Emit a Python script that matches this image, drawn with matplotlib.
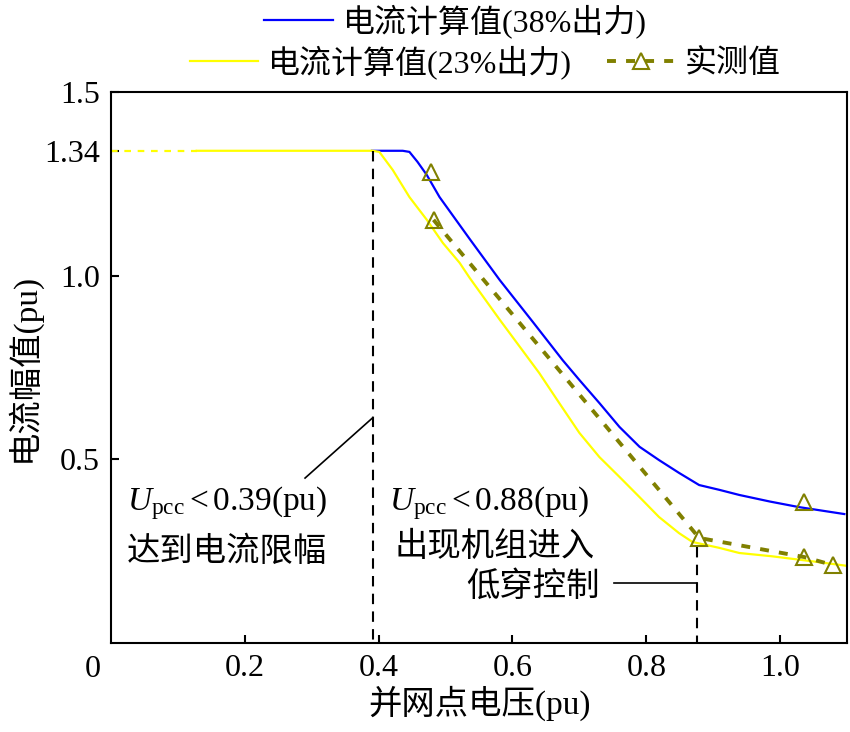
import matplotlib
matplotlib.use('Agg')
import matplotlib.pyplot as plt

plt.rcParams['font.family'] = ['Liberation Serif', 'Noto Sans CJK SC']
plt.rcParams['mathtext.fontset'] = 'custom'
plt.rcParams['mathtext.rm'] = 'Liberation Serif'
plt.rcParams['mathtext.it'] = 'Liberation Serif:italic'

# calculated current, 38% output
v_38 = [0.39, 0.436, 0.446, 0.458, 0.472, 0.491, 0.536, 0.581, 0.630, 0.675, 0.700, 0.730,
        0.760, 0.790, 0.819, 0.849, 0.879, 0.909, 0.939, 0.985, 1.028, 1.096]
i_38 = [1.34, 1.34, 1.337, 1.310, 1.274, 1.214, 1.100, 0.988, 0.875, 0.770, 0.716, 0.653,
        0.588, 0.534, 0.498, 0.463, 0.430, 0.417, 0.403, 0.385, 0.370, 0.351]

# calculated current, 23% output (dashed part at the start)
v_23_start = [0.0, 0.128]
i_23_start = [1.34, 1.34]
v_23 = [0.128, 0.391, 0.401, 0.421, 0.446, 0.472, 0.496, 0.521, 0.536, 0.581, 0.640, 0.670,
        0.700, 0.730, 0.760, 0.790, 0.819, 0.849, 0.869, 0.909, 0.939, 0.988, 1.054, 1.100]
i_23 = [1.34, 1.34, 1.337, 1.288, 1.214, 1.152, 1.089, 1.035, 0.994, 0.880, 0.735, 0.653,
        0.572, 0.506, 0.452, 0.397, 0.343, 0.299, 0.275, 0.259, 0.245, 0.236, 0.221, 0.210]

# measured values
v_meas = [0.482, 0.879, 1.036, 1.079]
i_meas = [1.152, 0.286, 0.234, 0.212]
v_meas_38 = [0.478, 1.036]
i_meas_38 = [1.282, 0.384]

x_ticks = [0.2, 0.4, 0.6, 0.8, 1.0]
x_labels = ['0.2', '0.4', '0.6', '0.8', '1.0']
y_ticks = [0.5, 1.0, 1.34, 1.5]
y_labels = ['0.5', '1.0', '1.34', '1.5']

olive = '#808000'

fig = plt.figure(figsize=(8.5, 7.32), dpi=100)
ax = fig.add_axes([0.1306, 0.1216, 0.8659, 0.7527])

l38, = ax.plot(v_38, i_38, color='#0000ff', lw=1.6, label='电流计算值(38%出力)')
ax.plot(v_23_start, i_23_start, color='#ffff00', lw=1.6, linestyle=(0, (3, 3)))
l23, = ax.plot(v_23, i_23, color='#ffff00', lw=1.6, label='电流计算值(23%出力)')
lm, = ax.plot(v_meas, i_meas, color=olive, lw=2.8, linestyle=(0, (2.3, 2.6)),
              marker='^', markersize=12, markerfacecolor='none', markeredgecolor=olive,
              markeredgewidth=1.5, label='实测值')
ax.plot(v_meas_38, i_meas_38, linestyle='none', marker='^', markersize=12,
        markerfacecolor='none', markeredgecolor=olive, markeredgewidth=1.5)

# vertical markers and leader lines
ax.plot([0.391, 0.391], [1.34, 0], color='black', lw=1.5, linestyle=(0, (5, 3.5)))
ax.plot([0.876, 0.876], [0.26, 0], color='black', lw=1.5, linestyle=(0, (5, 3.5)))
ax.plot([0.391, 0.290], [0.613, 0.449], color='black', lw=1.2)
ax.plot([0.751, 0.876], [0.163, 0.163], color='black', lw=1.2)

ax.text(0.024, 0.381, r'$U_{\mathrm{pcc}} < \mathrm{0.39(pu)}$', fontsize=24, ha='left', va='center')
ax.text(0.024, 0.248, '达到电流限幅', fontsize=24, ha='left', va='center')
ax.text(0.416, 0.381, r'$U_{\mathrm{pcc}} < \mathrm{0.88(pu)}$', fontsize=24, ha='left', va='center')
ax.text(0.424, 0.259, '出现机组进入', fontsize=24, ha='left', va='center')
ax.text(0.730, 0.152, '低穿控制', fontsize=24, ha='right', va='center')

ax.set_xlim(0, 1.1)
ax.set_ylim(0, 1.5)
ax.set_xticks(x_ticks)
ax.set_xticklabels(x_labels)
ax.set_yticks(y_ticks)
ax.set_yticklabels(y_labels)
ax.tick_params(direction='in', length=6, width=1.5, labelsize=23, pad=8)
ax.text(-0.027, -0.071, '0', fontsize=23, ha='center', va='center')
for s in ax.spines.values():
    s.set_linewidth(1.5)

ax.set_xlabel('并网点电压(pu)', fontsize=24, labelpad=2)
ax.set_ylabel('电流幅值(pu)', fontsize=24, labelpad=2)

fig.legend(handles=[l38], loc='center', bbox_to_anchor=(0.536, 0.971), frameon=False,
           fontsize=23, handlelength=2.15, handletextpad=0.3, borderpad=0)
fig.legend(handles=[l23, lm], loc='center', bbox_to_anchor=(0.571, 0.915), frameon=False,
           fontsize=23, ncol=2, handlelength=2.15, handletextpad=0.3, columnspacing=1.1,
           borderpad=0, numpoints=1)

fig.savefig('out.png', dpi=100)
